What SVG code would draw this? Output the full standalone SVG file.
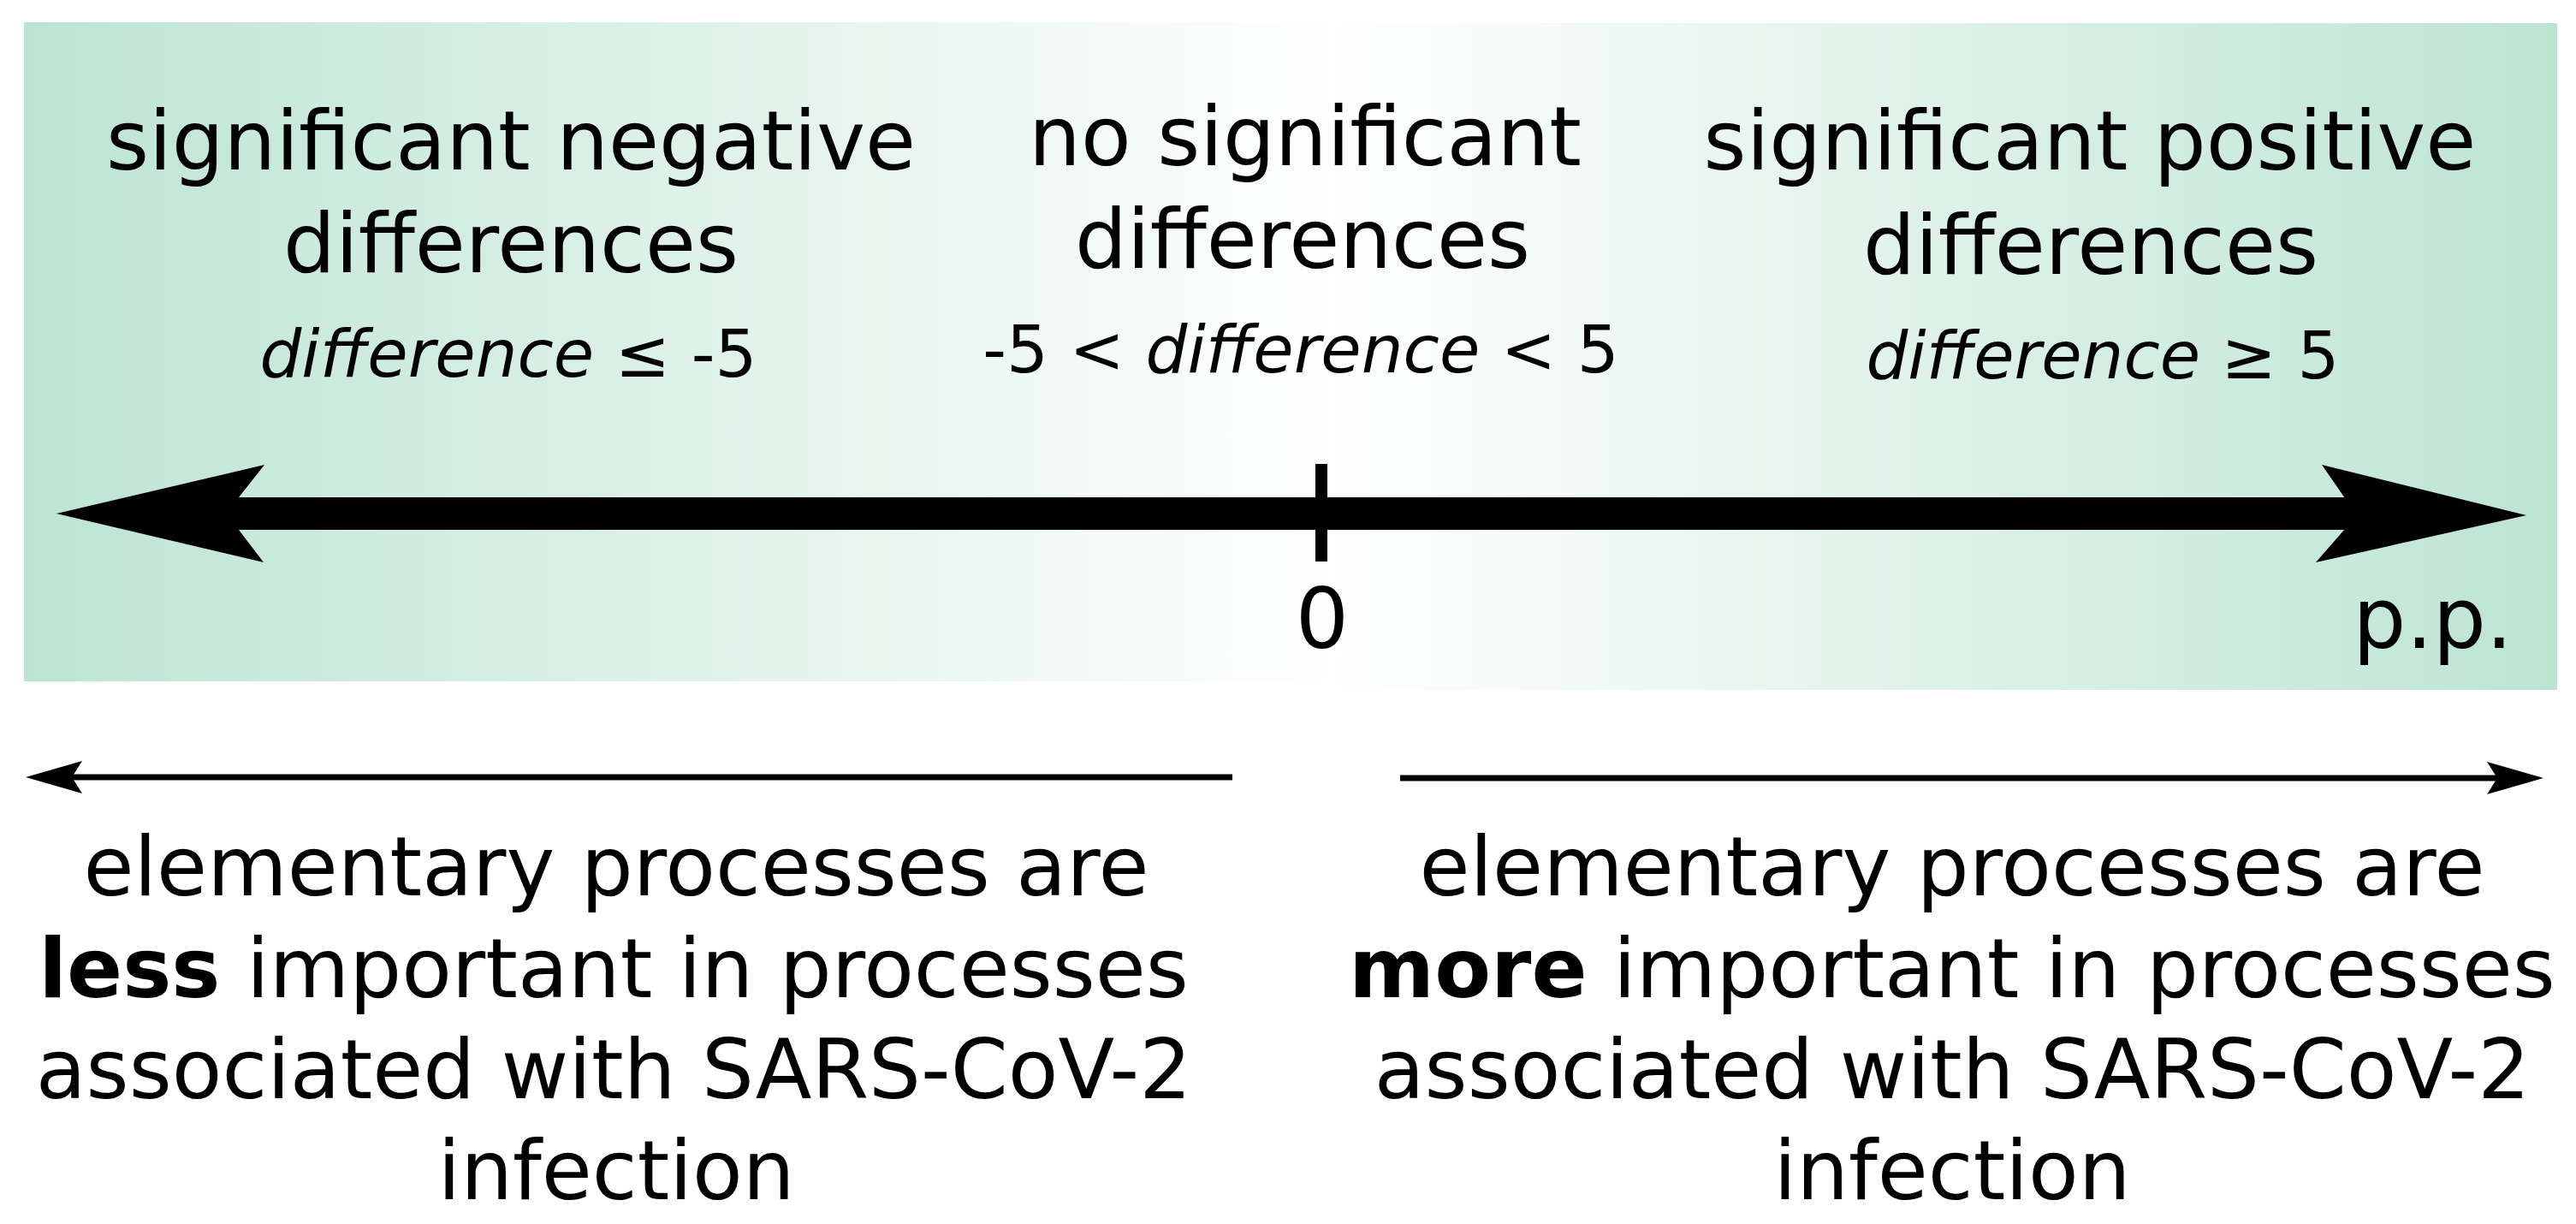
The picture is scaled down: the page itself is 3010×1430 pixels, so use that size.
<svg xmlns="http://www.w3.org/2000/svg" width="3010" height="1430" viewBox="0 0 3010 1430">
  <defs>
    <linearGradient id="gL" x1="0" y1="0" x2="1" y2="0">
      <stop offset="0" stop-color="#bce4d3"/>
      <stop offset="1" stop-color="#ffffff"/>
    </linearGradient>
    <linearGradient id="gR" x1="0" y1="0" x2="1" y2="0">
      <stop offset="0" stop-color="#ffffff"/>
      <stop offset="1" stop-color="#bce4d3"/>
    </linearGradient>
  </defs>
  <style>
    text { font-family: "DejaVu Sans", "Liberation Sans", sans-serif; fill: #000; }
    .big { font-size: 96px; text-anchor: middle; }
    .it { font-size: 77px; text-anchor: middle; }
    .it tspan.i { font-style: italic; }
    .ax { font-size: 98px; }
    .b { font-weight: bold; }
  </style>
  <rect width="3010" height="1430" fill="#ffffff"/>
  <g id="background">
    <rect x="28" y="26" width="1530" height="770" fill="url(#gL)"/>
    <rect x="1556" y="27" width="1432" height="779" fill="url(#gR)"/>
  </g>
  <g id="connectors">
    <g id="axis" fill="#000">
      <rect x="278" y="581" width="2464" height="38"/>
      <path d="M66,600 L309,543 L279,581 L279,619 L308,657 Z"/>
      <path d="M2952,602 L2713,543 L2740,582 L2740,618 L2706,657 Z"/>
      <rect x="1537" y="542" width="14" height="114"/>
    </g>
    <g id="arrow-less">
      <line x1="84" y1="908" x2="1440" y2="908" stroke="#000" stroke-width="7"/>
      <path d="M30,908 L96,889 L84,908 L96,927 Z" fill="#000"/>
    </g>
    <g id="arrow-more">
      <line x1="1636" y1="909" x2="2920" y2="909" stroke="#000" stroke-width="7"/>
      <path d="M2972,909 L2906,890 L2918,909 L2906,928 Z" fill="#000"/>
    </g>
  </g>
  <g id="label-negative">
    <text class="big" x="597" y="198">significant negative</text>
    <text class="big" x="597" y="318">differences</text>
    <text class="it" x="594" y="440"><tspan class="i">difference</tspan> ≤ -5</text>
  </g>
  <g id="label-none">
    <text class="big" x="1525" y="193">no significant</text>
    <text class="big" x="1522" y="313">differences</text>
    <text class="it" x="1520" y="435">-5 &lt; <tspan class="i">difference</tspan> &lt; 5</text>
  </g>
  <g id="label-positive">
    <text class="big" x="2442" y="198">significant positive</text>
    <text class="big" x="2443" y="320">differences</text>
    <text class="it" x="2457" y="442"><tspan class="i">difference</tspan> ≥ 5</text>
  </g>
  <g id="axis-labels">
    <text class="ax" x="1545" y="757" text-anchor="middle">0</text>
    <text class="ax" x="2936" y="757" text-anchor="end">p.p.</text>
  </g>
  <g id="text-less">
    <text class="big" x="720" y="1046">elementary processes are</text>
    <text class="big" x="717" y="1165"><tspan class="b">less</tspan> important in processes</text>
    <text class="big" x="717" y="1283">associated with SARS-CoV-2</text>
    <text class="big" x="720" y="1401">infection</text>
  </g>
  <g id="text-more">
    <text class="big" x="2281" y="1046">elementary processes are</text>
    <text class="big" x="2281" y="1165"><tspan class="b">more</tspan> important in processes</text>
    <text class="big" x="2281" y="1283">associated with SARS-CoV-2</text>
    <text class="big" x="2281" y="1401">infection</text>
  </g>
</svg>
